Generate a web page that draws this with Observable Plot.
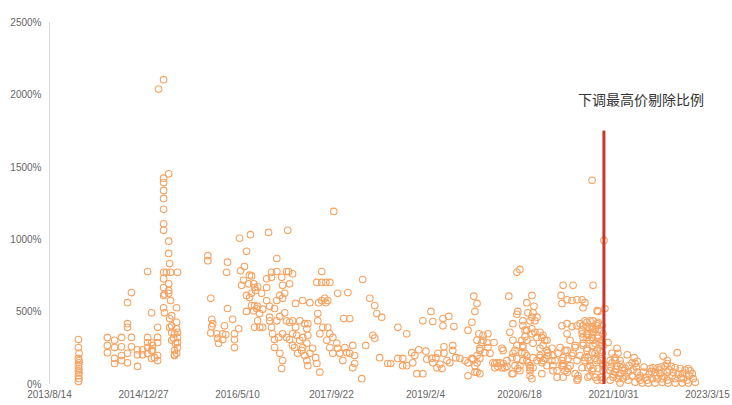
<!DOCTYPE html>
<html><head><meta charset="utf-8">
<script src="https://cdn.jsdelivr.net/npm/d3@7"></script>
<script src="https://cdn.jsdelivr.net/npm/@observablehq/plot@0.6"></script>
<style>html,body{margin:0;padding:0;background:#fff;}</style>
</head><body><div id="chart"></div>
<script>
const xTicks = ["2013-08-14","2014-12-27","2016-05-10","2017-09-22","2019-02-04","2020-06-18","2021-10-31","2023-03-15"];
const yTicks = [0,500,1000,1500,2000,2500];
const cutoff = [{date:"2021-09-10", top:1750}];
const annotation = [{date:"2021-04-25", value:1960, text:"下调最高价剔除比例"}];

const ipo2014 = [
["2014-01-15",310],["2014-01-15",255],["2014-01-18",215],["2014-01-15",180],["2014-01-18",150],["2014-01-15",130],["2014-01-18",110],["2014-01-15",95],["2014-01-18",80],["2014-01-15",60],["2014-01-18",40],["2014-01-15",20],["2014-01-18",165],
["2014-06-18",325],["2014-06-18",270],["2014-06-18",220],
["2014-07-26",305],["2014-07-26",255],["2014-07-26",180],["2014-07-26",145],
["2014-09-01",325],["2014-09-01",260],["2014-09-01",200],["2014-09-01",165],
["2014-10-03",565],["2014-10-03",420],["2014-10-03",395],["2014-10-03",215],["2014-10-03",150],
["2014-10-24",635],["2014-10-24",325],["2014-10-24",260],
["2014-11-25",240],["2014-11-25",205],["2014-11-25",125],
["2014-12-22",240],["2014-12-22",205]
];
const ipo2015 = [
["2015-01-18",780],["2015-01-18",325],["2015-01-18",290],["2015-01-18",255],["2015-01-18",215],
["2015-02-08",495],["2015-02-08",290],["2015-02-08",235],["2015-02-08",180],
["2015-02-13",270],["2015-02-13",235],["2015-02-24",185],
["2015-03-12",395],["2015-03-12",325],["2015-03-12",290],["2015-03-12",200],["2015-03-12",165],
["2015-03-17",2040],["2015-04-13",2105],
["2015-05-10",1455],["2015-04-13",1425],["2015-04-13",1395],["2015-04-13",1340],["2015-04-13",1285],["2015-04-13",1210],["2015-04-13",1110],["2015-04-13",1065],["2015-05-10",990],["2015-05-10",905],["2015-05-15",835],
["2015-04-13",775],["2015-04-28",775],["2015-05-20",775],["2015-06-26",775],
["2015-04-13",730],["2015-05-10",695],["2015-04-13",670],["2015-05-10",650],["2015-05-10",630],["2015-04-18",625],["2015-04-13",615],["2015-05-20",580],["2015-04-13",530],["2015-06-21",530],["2015-04-18",495],["2015-05-26",475],["2015-05-15",455],["2015-06-21",430],["2015-05-15",395],["2015-06-21",385],["2015-06-10",350],["2015-06-26",325],["2015-06-05",320],["2015-06-16",285],["2015-06-26",255],["2015-06-10",235],["2015-06-21",215],["2015-06-10",200],
["2015-05-26",405],["2015-05-26",360],["2015-06-26",360],["2015-05-26",305],["2015-06-26",290],["2015-06-10",205],
["2015-12-04",890],["2015-12-04",855],["2015-12-20",595],["2015-12-25",450],["2015-12-25",400],["2015-12-30",420],["2015-12-20",355]
];
const ipo2016 = [
["2016-01-20",350],["2016-01-25",320],["2016-01-30",285],
["2016-02-21",310],["2016-03-08",345],["2016-03-02",405],["2016-02-21",350],["2016-03-18",525],["2016-03-13",775],["2016-03-18",845],
["2016-04-14",450],["2016-04-24",350],["2016-04-24",310],["2016-04-24",255],["2016-05-16",385],
["2016-05-21",1010],["2016-07-18",1035],["2016-06-27",920],["2016-06-16",815],["2016-05-26",785],["2016-07-13",755],["2016-06-01",685],["2016-06-11",720],["2016-07-24",750],["2016-07-08",695],["2016-08-04",695],["2016-08-09",670],["2016-08-25",675],["2016-07-24",630],["2016-06-27",615],["2016-08-14",650],["2016-09-15",630],["2016-10-12",670],["2016-10-12",730],["2016-11-07",740],["2016-11-07",775],["2016-12-05",780],["2016-12-31",740],["2016-12-05",870],["2016-10-22",1050],
["2016-07-13",600],["2016-08-09",545],["2016-08-20",525],["2016-06-27",505],["2016-08-09",395],
["2016-07-24",545],["2016-08-25",540],["2016-08-04",510],["2016-09-05",490],["2016-09-21",520],["2016-10-12",580],["2016-10-28",540],["2016-11-23",525],["2016-12-05",580],["2016-12-21",615],
["2016-08-25",440],["2016-09-05",395],["2016-09-21",395],["2016-10-28",440],["2016-11-07",395],["2016-12-05",440],["2016-12-21",470],
["2016-10-28",465],["2016-11-13",350],["2016-11-23",310],["2016-11-23",255],["2016-12-15",325],
["2016-12-21",215],["2016-12-31",110]
];
const ipo2017 = [
["2017-01-26",780],["2017-02-06",780],["2017-02-27",765],["2017-02-01",1065],
["2017-01-05",685],["2017-02-11",695],["2017-01-16",630],["2017-01-05",595],
["2017-01-16",495],["2017-01-05",350],["2017-01-26",440],["2017-02-11",430],["2017-02-27",440],["2017-03-15",395],["2017-04-06",440],["2017-05-03",420],["2017-05-19",420],
["2017-01-05",165],
["2017-01-26",325],["2017-02-11",310],["2017-02-27",270],["2017-02-27",350],["2017-03-21",340],["2017-04-06",305],["2017-04-22",325],["2017-05-14",385],["2017-05-19",340],["2017-05-14",285],["2017-04-17",235],["2017-03-26",215],["2017-03-10",255],["2017-04-22",255],["2017-05-03",200],["2017-05-14",165],["2017-05-19",130],["2017-05-30",215],["2017-06-14",250],["2017-06-30",185],["2017-07-06",145],["2017-07-22",85],["2017-07-11",440],["2017-07-22",350],["2017-08-07",395],["2017-09-02",395],["2017-09-13",350],["2017-08-28",305],["2017-09-13",255],["2017-09-29",325],["2017-10-20",285],["2017-10-25",250],["2017-09-29",215],["2017-11-05",215],["2017-11-21",165],["2017-12-02",255],["2017-12-12",220],["2017-12-28",215],
["2017-07-06",705],["2017-08-01",705],["2017-08-23",705],["2017-09-13",705],["2017-08-01",780],
["2017-08-01",580],["2017-08-17",595],["2017-08-23",565],["2017-09-02",580],["2017-07-16",565],
["2017-03-15",560],["2017-04-22",580],["2017-05-30",565],["2017-07-11",490],
["2017-10-04",1195],["2017-10-25",630],["2017-12-18",635],["2017-11-26",455],["2017-12-28",455]
];
const ipo2018 = [
["2018-01-13",270],["2018-01-23",200],["2018-01-13",115],["2018-01-23",145],["2018-03-02",40],["2018-03-07",725],["2018-03-23",270],["2018-04-14",595],["2018-05-10",545],["2018-05-21",490],["2018-06-16",465],["2018-04-30",340],["2018-05-10",320],["2018-06-05",185],["2018-07-18",145],
["2018-09-10",395],["2018-10-27",350],["2018-08-03",145],["2018-09-10",180],["2018-10-06",180],["2018-10-06",130],["2018-10-27",130],
["2018-11-23",220],["2018-12-09",200],["2018-12-30",240],["2018-11-28",150],["2018-12-20",75]
];
const ipo2019 = [
["2019-02-06",230],["2019-01-21",75],
["2019-01-21",440],["2019-03-05",505],["2019-03-15",435],["2019-05-08",455],["2019-06-08",470],["2019-05-08",405],["2019-07-05",400],
["2019-02-11",175],["2019-03-10",180],["2019-03-15",150],["2019-03-31",185],["2019-04-11",215],["2019-04-22",140],["2019-04-06",115],["2019-05-02",110],["2019-05-13",260],["2019-05-13",215],["2019-05-29",165],["2019-06-13",150],["2019-06-29",235],["2019-06-29",270],["2019-07-15",185],
["2019-08-06",180],["2019-09-02",165],["2019-09-18",150],["2019-10-14",175],["2019-11-05",200],["2019-11-05",150],["2019-11-20",180],
["2019-09-18",60],["2019-10-25",85],["2019-11-20",75],
["2019-10-19",610],["2019-11-05",560],["2019-10-25",505],["2019-10-09",430],["2019-09-18",375],
["2019-11-15",350],["2019-12-07",305],["2019-11-20",250],["2019-12-28",290],
["2019-12-07",340],["2019-11-05",305],["2019-12-01",290],["2019-11-20",235],["2019-12-17",220],
["2019-10-09",180],["2019-10-25",130],["2019-11-05",85]
];
const ipo2020 = [
["2020-01-02",350],["2020-01-02",255],["2020-01-13",215],
["2020-02-03",290],["2020-03-23",235],["2020-02-08",145],["2020-02-24",125],["2020-03-23",145],["2020-04-12",125],["2020-04-12",165],["2020-05-09",185],["2020-04-28",360],["2020-04-22",610],["2020-06-04",775],["2020-06-20",795],
["2020-06-09",505],["2020-06-04",485],["2020-05-14",420],
["2020-05-14",305],["2020-05-25",235],["2020-06-04",180],["2020-05-25",130],["2020-05-14",75],["2020-06-09",110],["2020-06-20",95],
["2020-07-27",565],["2020-08-02",495],["2020-08-29",495],["2020-09-03",540],["2020-08-23",615],["2020-09-08",440],["2020-08-13",440],["2020-07-06",440],["2020-07-17",375],["2020-07-17",330],["2020-08-23",350],["2020-09-19",325],["2020-10-05",360],["2020-10-21",340],["2020-10-31",305],
["2020-07-01",305],["2020-07-06",255],["2020-07-17",215],["2020-07-27",165],["2020-08-13",130],["2020-08-13",95],["2020-08-29",115],["2020-09-19",165],["2020-10-05",185],["2020-10-21",165],["2020-11-11",235],["2020-11-16",200],["2020-12-08",165],["2020-12-13",130],
["2020-08-23",465],["2020-09-19",465],["2020-07-06",405],["2020-07-27",375],["2020-08-23",385],["2020-09-08",360],["2020-10-15",325],["2020-11-11",305],
["2020-03-17",250],["2020-06-04",270],["2020-07-01",220],["2020-07-06",270],["2020-07-27",305],["2020-08-29",285],["2020-10-05",250],["2020-10-21",270],
["2020-01-29",150],["2020-02-19",150],["2020-03-07",150],["2020-02-08",115],["2020-03-17",115],["2020-04-01",115],
["2020-05-14",215],["2020-06-20",130],["2020-07-06",165],["2020-07-27",200],["2020-08-02",150],["2020-08-13",115],["2020-08-29",185],["2020-10-05",200],["2020-10-15",150],["2020-10-31",180],["2020-11-11",130],["2020-11-16",220],["2020-12-08",250],["2020-12-13",200],["2020-12-24",165],
["2020-05-09",75],["2020-08-13",60],["2020-08-23",40],["2020-10-15",75],["2020-12-13",95]
];
const ipo2021 = [
["2021-01-04",95],["2021-01-09",215],["2021-01-30",165],["2021-01-30",130],["2021-02-15",95],
["2021-02-05",685],["2021-01-25",615],["2021-01-30",560],["2021-02-26",585],["2021-03-24",580],["2021-04-20",585],["2021-05-17",585],["2021-03-30",685],["2021-07-14",685],["2021-05-22",530],["2021-08-05",510],
["2021-01-30",405],["2021-02-26",350],["2021-03-24",400],["2021-04-20",405],["2021-05-17",375],["2021-06-12",430],["2021-06-28",440],["2021-07-14",385],["2021-08-05",420],["2021-06-12",325],["2021-07-14",305],["2021-05-22",285],
["2021-06-01",565],["2021-08-10",505],
["2021-02-26",420],["2021-05-22",405],["2021-07-14",440],["2021-08-10",430],["2021-06-28",385],["2021-07-25",380],["2021-08-21",375],["2021-06-12",350],["2021-05-22",325],["2021-07-09",325],["2021-08-10",320],["2021-08-31",305],
["2021-01-20",255],["2021-02-05",185],["2021-02-05",130],["2021-02-26",235],["2021-03-03",180],["2021-03-14",130],["2021-03-30",215],["2021-04-10",255],["2021-04-20",165],["2021-05-06",200],["2021-05-17",115],["2021-05-22",270],["2021-06-01",165],["2021-06-12",235],["2021-06-17",185],["2021-06-28",130],["2021-07-09",95],["2021-07-14",270],["2021-07-25",215],["2021-08-05",165],["2021-08-10",110],["2021-08-21",235],["2021-08-31",180],["2021-09-05",130],
["2021-01-04",50],["2021-02-26",85],["2021-04-20",30],["2021-04-25",60],["2021-06-17",50],["2021-08-05",30],["2021-08-31",50],
["2021-03-14",305],["2021-04-10",270],["2021-02-15",235],["2021-03-24",200],["2021-02-05",145],["2021-03-03",110],["2021-04-10",75],["2021-04-25",40],["2021-02-05",50],
["2021-05-06",420],["2021-06-01",440],["2021-06-12",395],["2021-07-09",395],["2021-08-05",405],["2021-08-31",405],["2021-05-17",350],["2021-06-17",340],["2021-07-14",360],["2021-08-10",340],["2021-09-05",350],["2021-06-28",305],["2021-07-25",285],["2021-08-21",290],["2021-09-05",270],["2021-06-12",250],["2021-07-09",220],["2021-08-05",235],["2021-08-31",220],["2021-06-01",185],["2021-06-28",165],["2021-07-25",180],["2021-08-21",165],["2021-09-05",145],["2021-06-17",115],["2021-07-14",110],["2021-09-05",95],["2021-06-28",60],["2021-07-25",50],["2021-08-21",50],["2021-08-31",30],
["2021-07-09",1410],["2021-09-10",995],["2021-09-15",525],
["2021-10-02",290],["2021-10-13",165],
["2021-11-19",250],["2021-10-23",215],["2021-11-08",185],["2021-12-05",165],["2021-10-23",150],["2021-11-19",130],["2021-12-16",115],["2021-10-13",95],["2021-11-08",85],["2021-12-05",75],["2021-12-21",40],["2021-11-24",40],["2021-10-29",50],["2021-10-13",30],["2021-12-05",10],["2021-11-08",165],["2021-11-24",215],
["2021-10-18",120],["2021-10-28",70],["2021-11-13",105],["2021-11-29",60],["2021-12-10",140],["2021-12-26",95]
];
const ipo2022 = [
["2022-01-12",205],["2022-02-18",185],["2022-03-06",160],["2022-02-23",145],
["2022-07-22",195],["2022-08-13",165],["2022-10-05",220],["2022-09-24",115],
["2022-08-02",130],["2022-06-25",115],["2022-05-30",115],["2022-05-14",110],["2022-06-09",85],["2022-07-06",75],["2022-08-13",85],
["2022-01-01",110],["2022-01-17",85],["2022-02-07",60],["2022-03-06",85],["2022-03-22",60],["2022-04-07",85],["2022-04-18",50],["2022-03-22",30],["2022-04-28",30],["2022-05-25",40],["2022-06-20",40],["2022-07-17",40],["2022-08-13",30],["2022-09-08",60],["2022-09-24",40],["2022-10-21",110],["2022-11-01",75],["2022-11-06",40],["2022-11-27",30],["2022-12-13",95],["2022-12-24",75],["2022-12-29",40],
["2022-12-03",10],["2022-11-01",10],["2022-09-24",10],["2022-08-18",10],["2022-07-17",15],["2022-06-09",10],["2022-05-04",10],["2022-04-02",10],["2022-02-23",15],["2022-01-17",30],
["2022-02-07",150],["2022-08-13",145],["2022-12-03",110],
["2022-01-06",55],["2022-01-22",130],["2022-02-12",100],["2022-03-01",120],["2022-03-16",45],["2022-04-12",120],["2022-05-09",70],["2022-05-20",90],["2022-06-14",60],["2022-06-30",100],["2022-07-11",120],["2022-07-27",55],["2022-08-23",100],["2022-09-03",125],["2022-09-13",85],["2022-10-10",70],["2022-10-26",50],["2022-11-16",100],["2022-12-08",60]
];
const ipo2023 = [["2023-01-09",15]];

const parse = d3.utcParse("%Y-%m-%d");
const points = [ipo2014, ipo2015, ipo2016, ipo2017, ipo2018, ipo2019, ipo2020, ipo2021, ipo2022, ipo2023]
  .flat().map(([d, v]) => ({date: parse(d), value: v}));
const tickDates = xTicks.map(parse);
const cutoffRows = cutoff.map(d => ({date: parse(d.date), top: d.top}));
const noteRows = annotation.map(d => ({...d, date: parse(d.date)}));

const chart = Plot.plot({
  width: 732,
  height: 405,
  marginLeft: 49,
  marginRight: 25,
  marginTop: 22,
  marginBottom: 21,
  style: {fontFamily: "'Liberation Sans', Arial, sans-serif", fontSize: "10px", color: "#666", background: "#fff"},
  x: {type: "utc", domain: [tickDates[0], tickDates[tickDates.length - 1]], ticks: tickDates,
      tickFormat: d3.utcFormat("%Y/%-m/%-d"), tickSize: 0, tickPadding: 6, label: null},
  y: {domain: [0, 2500], ticks: yTicks, tickFormat: d => d + "%", tickSize: 0, tickPadding: 8, label: null},
  marks: [
    Plot.ruleX([tickDates[0]], {stroke: "#d9d9d9", strokeWidth: 1}),
    Plot.dot(points, {x: "date", y: "value", r: 3.3, stroke: "#f5a362", strokeWidth: 1.1, fill: "none"}),
    Plot.ruleX(cutoffRows, {x: "date", y1: 0, y2: "top", stroke: "#c8372d", strokeWidth: 3}),
    Plot.text(noteRows, {x: "date", y: "value", text: "text", textAnchor: "start", fontSize: 14,
      fill: "#333", fontFamily: "'Noto Sans CJK SC', sans-serif"})
  ]
});
document.getElementById("chart").appendChild(chart);
</script>
</body></html>
